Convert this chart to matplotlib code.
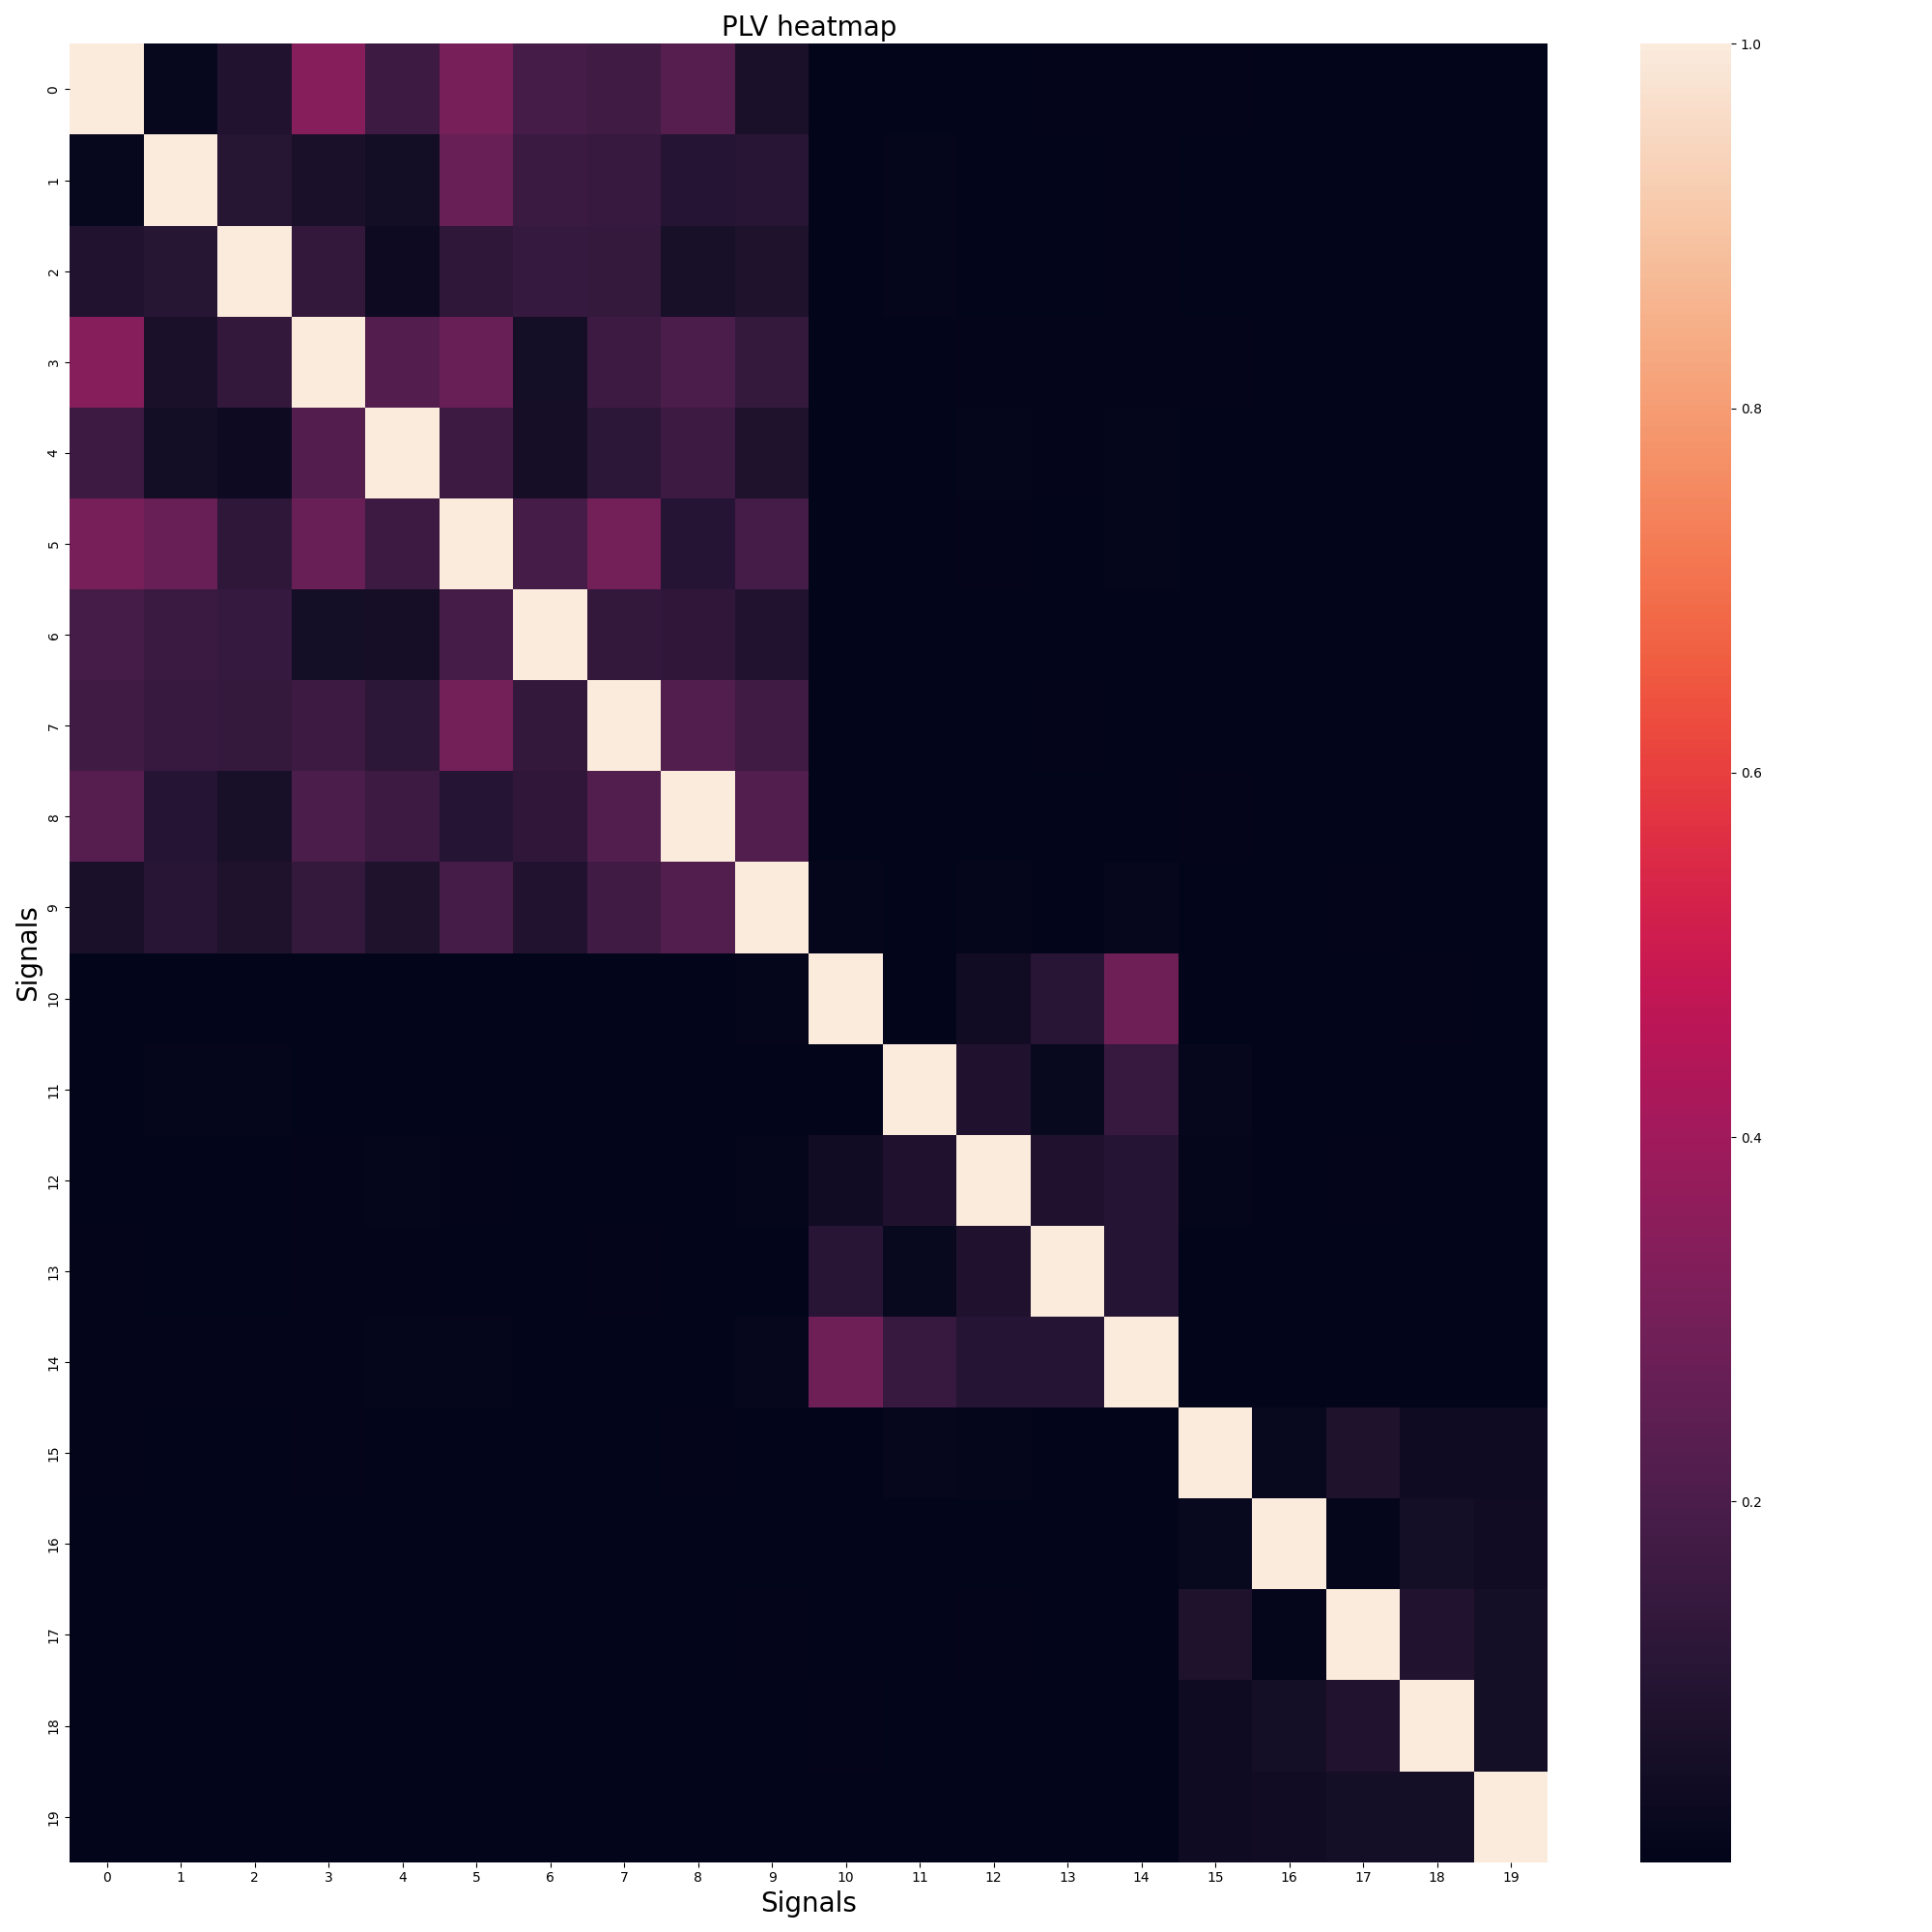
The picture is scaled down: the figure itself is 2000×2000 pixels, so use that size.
import matplotlib
matplotlib.use("Agg")
import matplotlib.pyplot as plt
import seaborn as sns
import numpy as np
import pandas as pd

signals = list(range(20))

row_0 = [1.0, .02, .09, .34, .16, .305, .185, .17, .228, .07, .004, .004, .004, .007, .009, .008, .004, .004, .004, .004]
row_1 = [.02, 1.0, .105, .07, .05, .27, .155, .15, .10, .11, .004, .012, .003, .004, .006, .004, .003, .003, .003, .003]
row_2 = [.09, .105, 1.0, .135, .035, .125, .143, .14, .065, .08, .004, .01, .003, .004, .006, .004, .003, .003, .003, .003]
row_3 = [.34, .07, .135, 1.0, .22, .27, .055, .165, .2, .14, .004, .004, .006, .006, .006, .007, .004, .003, .003, .003]
row_4 = [.16, .05, .035, .22, 1.0, .165, .06, .12, .16, .08, .004, .004, .012, .006, .01, .004, .004, .003, .003, .003]
row_5 = [.305, .27, .125, .27, .165, 1.0, .185, .295, .10, .185, .003, .004, .006, .005, .01, .004, .003, .003, .003, .003]
row_6 = [.185, .155, .143, .055, .06, .185, 1.0, .135, .13, .09, .004, .005, .005, .004, .004, .004, .003, .003, .003, .003]
row_7 = [.17, .15, .14, .165, .12, .295, .135, 1.0, .215, .17, .004, .004, .004, .009, .004, .004, .003, .003, .003, .003]
row_8 = [.228, .10, .065, .2, .16, .10, .13, .215, 1.0, .215, .005, .003, .003, .003, .004, .006, .003, .004, .004, .004]
row_9 = [.07, .11, .08, .14, .08, .185, .09, .17, .215, 1.0, .012, .005, .01, .003, .015, .004, .004, .006, .005, .005]
row_10 = [.004, .004, .004, .004, .004, .003, .004, .004, .005, .012, 1.0, .005, .045, .11, .28, .002, .004, .004, .006, .005]
row_11 = [.004, .012, .01, .004, .004, .004, .005, .004, .003, .005, .005, 1.0, .085, .025, .15, .015, .004, .004, .004, .004]
row_12 = [.004, .003, .003, .006, .012, .006, .005, .004, .003, .01, .045, .085, 1.0, .085, .10, .012, .004, .006, .004, .004]
row_13 = [.007, .004, .004, .006, .006, .005, .004, .009, .003, .003, .11, .025, .085, 1.0, .10, .005, .003, .003, .003, .003]
row_14 = [.009, .006, .006, .006, .01, .01, .004, .004, .004, .015, .28, .15, .10, .10, 1.0, .004, .002, .003, .002, .002]
row_15 = [.008, .004, .004, .007, .004, .004, .004, .004, .006, .004, .002, .015, .012, .005, .004, 1.0, .025, .08, .04, .04]
row_16 = [.004, .003, .003, .004, .004, .003, .003, .003, .003, .004, .004, .004, .004, .003, .002, .025, 1.0, .01, .055, .045]
row_17 = [.004, .003, .003, .003, .003, .003, .003, .003, .004, .006, .004, .004, .006, .003, .003, .08, .01, 1.0, .09, .055]
row_18 = [.004, .003, .003, .003, .003, .003, .003, .003, .004, .005, .006, .004, .004, .003, .002, .04, .055, .09, 1.0, .055]
row_19 = [.004, .003, .003, .003, .003, .003, .003, .003, .004, .005, .005, .004, .004, .003, .002, .04, .045, .055, .055, 1.0]

rows = [row_0, row_1, row_2, row_3, row_4, row_5, row_6, row_7, row_8, row_9,
        row_10, row_11, row_12, row_13, row_14, row_15, row_16, row_17, row_18, row_19]
plv = pd.DataFrame(np.array(rows), index=signals, columns=signals)

fig, ax = plt.subplots(figsize=(20, 20))
sns.heatmap(plv, ax=ax)
ax.set_title("PLV heatmap", fontsize=20)
ax.set_xlabel("Signals", fontsize=20)
ax.set_ylabel("Signals", fontsize=20)
plt.tight_layout()
fig.savefig("out.png", dpi=100)
